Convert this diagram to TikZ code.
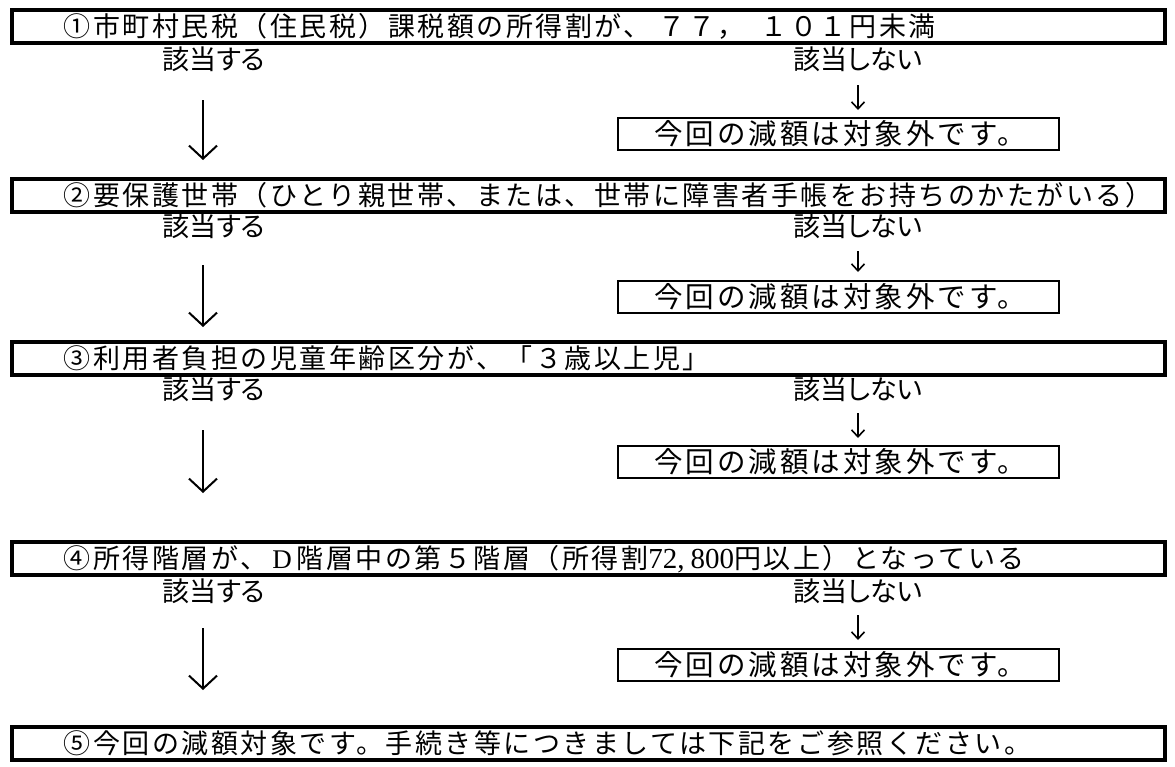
\documentclass[tikz,border=0pt]{standalone}
\usepackage{fontspec}
\setmainfont{Noto Sans CJK JP}[LetterSpace=9.3]
\newfontfamily\resfont{Noto Sans CJK JP}[LetterSpace=10.5]
\newfontfamily\numserif{Liberation Serif}
\newfontfamily\labfont{Noto Sans CJK JP}[RawFeature=+palt]
\usetikzlibrary{arrows.meta}
\newcommand\mytxt[1]{\raisebox{-0.37em}[0pt][0pt]{\makebox[1141bp][l]{\hspace{46bp}#1}}}
\newcommand\myres[1]{\raisebox{-0.37em}[0pt][0pt]{\makebox[431bp][l]{\hspace{31bp}#1}}}
\begin{document}
\begin{tikzpicture}[x=1bp,y=-1bp,
  every node/.style={font=\fontsize{27bp}{30bp}\selectfont},
  mainbox/.style={draw, line width=3.6bp, inner xsep=6bp, inner ysep=0pt, minimum height=33bp, anchor=north west},
  resbox/.style={draw, line width=2.4bp, inner xsep=5bp, inner ysep=0pt, minimum height=32bp, anchor=north west,
    font=\resfont\fontsize{28.5bp}{30bp}\selectfont},
  lbl/.style={inner sep=0pt, font=\labfont\fontsize{27bp}{30bp}\selectfont},
  longarr/.style={line width=2bp, -{Straight Barb[length=13bp, width=28bp, line width=2bp]}},
  smallarr/.style={line width=1.6bp, -{Straight Barb[length=7bp, width=13bp, line width=1.6bp]}}
]
\useasboundingbox (0,0) rectangle (1175,767);

% main boxes
\node[mainbox] (b1) at (10,8)   {\mytxt{①市町村民税（住民税）課税額の所得割が、\hspace{8bp}７７，\hspace{16bp}１０１円未満}};
\node[mainbox] (b2) at (10,177) {\mytxt{②要保護世帯（ひとり親世帯、または、世帯に障害者手帳をお持ちのかたがいる）}};
\node[mainbox] (b3) at (10,340) {\mytxt{③利用者負担の児童年齢区分が、「３歳以上児」}};
\node[mainbox] (b4) at (10,540) {\mytxt{④所得階層が、\makebox[29.5bp]{\numserif D}階層中の第５階層（所得割{\numserif\fontsize{29bp}{30bp}\selectfont 72,\hspace{6bp}800}円以上）となっている}};
\node[mainbox] (b5) at (10,725) {\mytxt{⑤今回の減額対象です。手続き等につきましては下記をご参照ください。}};

% labels
\node[lbl] (y1) at (214,59)  {該当する};
\node[lbl] (n1) at (858,59)  {該当しない};
\node[lbl] (y2) at (214,226) {該当する};
\node[lbl] (n2) at (858,226) {該当しない};
\node[lbl] (y3) at (214,389) {該当する};
\node[lbl] (n3) at (858,389) {該当しない};
\node[lbl] (y4) at (214,591) {該当する};
\node[lbl] (n4) at (858,591) {該当しない};

% result boxes
\node[resbox] (r1) at (617,117) {\myres{今回の減額は対象外です。}};
\node[resbox] (r2) at (617,280) {\myres{今回の減額は対象外です。}};
\node[resbox] (r3) at (617,445) {\myres{今回の減額は対象外です。}};
\node[resbox] (r4) at (617,648) {\myres{今回の減額は対象外です。}};

% long arrows
\foreach \a/\b/\s/\e in {y1/b2/41/17, y2/b3/39/13, y3/b4/41/47, y4/b5/37/35}{
  \draw[longarr, shorten <=\s bp, shorten >=\e bp] ([xshift=-11bp]\a.center) -- ([xshift=-11bp]\a.center |- \b.north);
}
% small arrows
\foreach \a/\b/\s/\e in {n1/r1/26/7, n2/r2/25/8, n3/r3/24/7, n4/r4/24/8}{
  \draw[smallarr, shorten <=\s bp, shorten >=\e bp] (\a.center) -- (\a.center |- \b.north);
}
\end{tikzpicture}
\end{document}
